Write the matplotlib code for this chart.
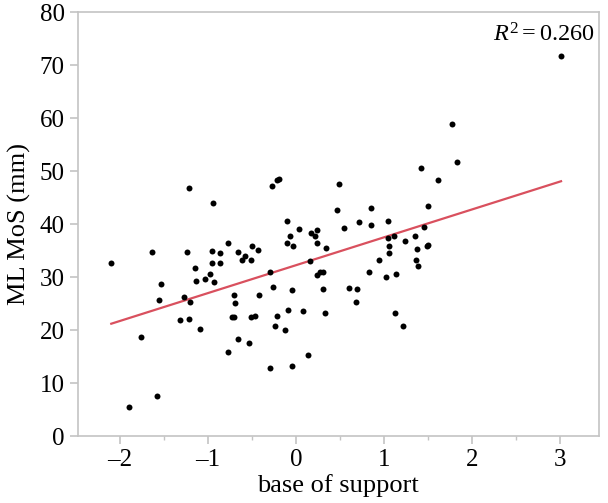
import matplotlib
matplotlib.use("Agg")
import matplotlib.pyplot as plt
from matplotlib.ticker import MultipleLocator
import numpy as np

base_of_support = [
    -1.22, -0.94, -0.27, -0.22, -0.19, 0.485, 0.47, -0.10, 0.03, 0.24, 0.54,
    3.01, 1.77, 1.83, 1.42, 1.61, 1.50, 0.856, 0.71, 0.85, 1.04, 1.45,
    -2.10, -1.64, -1.54, -1.56, -1.76, -1.90, -1.58, -1.24, -1.15, -1.14,
    -1.27, -1.20, -1.32, -1.22, -1.09, -1.04, -0.98, -0.96, -0.96, -0.93,
    -0.86, -0.86, -0.77, -0.66, -0.58, -0.61, -0.50, -0.43, -0.51, -0.71,
    -0.69, -0.73, -0.70, -0.66, -0.77, -0.53, -0.51, -0.47, -0.42, -0.30,
    -0.26, -0.30, -0.05, 0.14, -0.22, -0.24, -0.13, -0.09, 0.08, -0.05,
    -0.07, -0.10, -0.03, 0.17, 0.21, 0.24, 0.34, 0.16, 0.24, 0.27, 0.30,
    0.31, 0.33, 0.60,
    0.69, 0.68, 0.83, 0.94, 1.04, 1.11, 1.05, 1.05, 1.02, 1.14, 1.12,
    1.22, 1.24, 1.35, 1.375, 1.36, 1.38, 1.49, 1.50,
]
ml_mos = [
    46.9, 43.9, 47.2, 48.4, 48.6, 47.6, 42.7, 40.5, 39.1, 38.9, 39.2,
    71.7, 58.9, 51.7, 50.5, 48.3, 43.4, 43.1, 40.3, 39.8, 40.6, 39.4,
    32.6, 34.8, 28.7, 25.6, 18.7, 5.5, 7.6, 34.8, 31.8, 29.3,
    26.3, 25.3, 21.9, 22.1, 20.3, 29.7, 30.6, 35.0, 32.7, 29.0,
    34.6, 32.7, 36.5, 34.7, 34.0, 33.3, 35.8, 35.2, 33.3, 26.7,
    25.1, 22.4, 22.4, 18.4, 15.8, 17.5, 22.4, 22.6, 26.7, 30.9,
    28.2, 12.8, 13.3, 15.3, 22.7, 20.7, 20.0, 23.8, 23.6, 27.5,
    37.8, 36.4, 35.8, 38.3, 37.8, 36.4, 35.5, 33.1, 30.4, 30.9, 30.9,
    27.8, 23.2, 28.0,
    27.8, 25.3, 30.9, 33.2, 37.4, 37.7, 35.8, 34.5, 30.0, 30.6, 23.3,
    20.8, 36.8, 37.8, 35.3, 33.3, 32.0, 35.9, 36.0,
]
fit_slope = 5.26
fit_intercept = 32.25
r2_label = "0.260"

x_ticks = [-2, -1, 0, 1, 2, 3]
y_ticks = [0, 10, 20, 30, 40, 50, 60, 70, 80]

plt.rcParams['font.family'] = ['Liberation Serif', 'DejaVu Serif']
plt.rcParams['mathtext.fontset'] = 'custom'
plt.rcParams['mathtext.rm'] = 'Liberation Serif'
plt.rcParams['mathtext.it'] = 'Liberation Serif:italic'

fig = plt.figure(figsize=(6.08, 5.03), dpi=100)
ax = fig.add_axes([0.128, 0.133, 0.857, 0.843])

gray = '#c4c4c4'
x = np.array(base_of_support)
y = np.array(ml_mos)
xl = np.array([x.min(), x.max()])
ax.plot(xl, fit_intercept + fit_slope * xl, color='#d9505e', lw=1.6, zorder=2)
ax.plot(x, y, 'o', color='black', markersize=4.3, markeredgewidth=0, zorder=3)

ax.set_xlim(-2.48, 3.44)
ax.set_ylim(0, 80)
ax.set_xticks(x_ticks)
ax.set_xticklabels(['\u2013' + str(-t) if t < 0 else str(t) for t in x_ticks])
ax.xaxis.set_minor_locator(MultipleLocator(0.5))
ax.set_yticks(y_ticks)

for s in ax.spines.values():
    s.set_color(gray)
    s.set_linewidth(1.2)
ax.tick_params(axis='both', which='major', direction='out', color=gray, width=1.2,
               length=5.5, labelsize=18, pad=4)
ax.tick_params(axis='x', which='minor', direction='out', color=gray, width=1.0, length=3)

ax.set_xlabel('base of support', fontsize=19, labelpad=2)
ax.set_ylabel('ML MoS (mm)', fontsize=19, labelpad=6)

ax.text(0.992, 0.931, r'$R^2 = $' + r'$\mathrm{' + r2_label + '}$', transform=ax.transAxes,
        ha='right', va='baseline', fontsize=17.5)

fig.savefig('out.png', dpi=100)
